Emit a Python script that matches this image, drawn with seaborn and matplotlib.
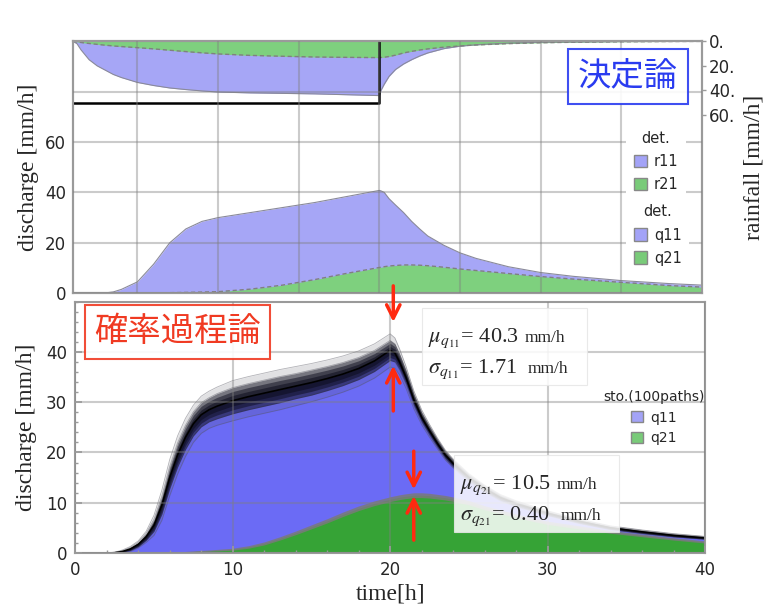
import numpy as np
import seaborn as sns
import matplotlib.pyplot as plt
from matplotlib.patches import Patch, Rectangle
from matplotlib.ticker import MultipleLocator

# ---- deterministic run (upper panel) ----
t_det = [1, 1.25, 1.5, 1.75, 2, 2.5, 3, 3.5, 4, 5, 6, 7, 8, 9, 10, 12, 14, 16, 18, 20,
         20.1, 20.3, 20.6, 21, 21.5, 22, 22.5, 23, 24, 25, 26, 28, 30, 32, 35, 38, 40]
r11_det = [0, 2, 7, 11, 15, 20, 23.5, 27, 29.5, 33.5, 36, 38, 39.3, 40.4, 41.3, 42, 42.4, 42.8, 43.5, 44.2,
           40, 35, 28.6, 23, 18.5, 15, 12, 9.5, 6, 4, 2.8, 1.5, 0.8, 0.5, 0.2, 0.1, 0]
r21_det = [0, 0.5, 1.0, 1.4, 1.8, 2.5, 3.2, 3.8, 4.3, 5.2, 6.2, 7.3, 8.4, 9.4, 10.3, 11.5, 12.2, 12.8, 13.1, 13.3,
           13.2, 13.0, 12.4, 11.3, 9.5, 8.2, 7.1, 6.2, 4.8, 3.8, 3.0, 1.9, 1.2, 0.8, 0.4, 0.2, 0.1]
q11_det = [0, 0, 0, 0, 0, 0, 0.1, 0.5, 1.5, 4.5, 11.5, 20, 25.5, 28.5, 30, 32, 34, 36, 38.4, 40.8,
           40.6, 40, 37.5, 35, 32, 28.5, 25.5, 22.7, 19, 16, 13.8, 10.5, 8.2, 6.7, 5.0, 3.8, 3.2]
q21_det = [0, 0, 0, 0, 0, 0, 0, 0, 0, 0, 0.1, 0.2, 0.3, 0.45, 0.6, 1.6, 3.2, 5.4, 7.9, 10.2,
           10.3, 10.5, 10.8, 11.0, 11.2, 11.2, 11.1, 10.9, 10.3, 9.6, 9.0, 7.8, 6.6, 5.6, 4.3, 3.0, 2.4]
rain_time = [0, 20, 20]
rain_rate = [50, 50, 0]

# ---- stochastic run, 100 paths (lower panel) ----
t_sto = [0, 1, 2, 2.5, 3, 3.5, 4, 4.5, 5, 5.5, 6, 6.5, 7, 7.5, 8, 8.5, 9, 10, 11, 12,
         13, 14, 15, 16, 17, 18, 19, 20, 20.3, 20.6, 21, 21.5, 22, 22.5, 23, 23.5, 24, 25, 26, 27,
         28, 30, 32, 34, 36, 38, 40]
q11_sto = [0, 0, 0, 0.05, 0.3, 0.8, 1.7, 3.2, 5.5, 9.5, 15, 19.5, 23, 25.7, 27.5, 28.5, 29.2, 30.3, 31.1, 31.8,
           32.5, 33.2, 33.9, 34.7, 35.6, 36.7, 38.2, 40.3, 39.8, 38, 35, 30.5, 27, 24.3, 21.8, 19.5, 17.8, 15, 12.8, 11,
           9.8, 7.9, 6.3, 5.0, 4.2, 3.5, 3.0]
# half-width of the dense core of the paths
q11_core = [0, 0, 0, 0.05, 0.15, 0.3, 0.45, 0.7, 1.2, 1.8, 2.2, 2.4, 2.4, 2.4, 2.4, 2.4, 2.5, 2.6, 2.6, 2.6,
            2.6, 2.5, 2.5, 2.4, 2.3, 2.2, 2.1, 2.0, 1.8, 1.6, 1.4, 1.2, 1.0, 0.9, 0.8, 0.75, 0.7, 0.6, 0.55, 0.5,
            0.45, 0.4, 0.35, 0.32, 0.3, 0.28, 0.25]
# half-width reached by the outermost paths
q11_fringe = [0, 0, 0, 0.1, 0.3, 0.5, 0.7, 1.1, 2.0, 3.0, 3.6, 3.8, 3.8, 3.7, 3.7, 3.7, 3.8, 4.0, 4.0, 4.0,
              4.0, 3.9, 3.8, 3.7, 3.6, 3.5, 3.4, 3.3, 3.0, 2.6, 2.2, 1.8, 1.5, 1.3, 1.1, 1.0, 0.9, 0.8, 0.7, 0.65,
              0.6, 0.5, 0.45, 0.4, 0.38, 0.35, 0.3]
q21_sto = [0, 0, 0, 0, 0, 0, 0, 0, 0.03, 0.05, 0.1, 0.15, 0.22, 0.3, 0.38, 0.46, 0.55, 0.75, 1.2, 1.9,
           2.9, 4.0, 5.2, 6.4, 7.7, 8.9, 9.9, 10.7, 10.9, 11.1, 11.3, 11.5, 11.5, 11.4, 11.2, 11.0, 10.7, 10.0, 9.0, 8.2,
           7.4, 6.0, 5.1, 4.2, 3.5, 2.8, 2.2]
q21_core = [0, 0, 0, 0, 0, 0, 0, 0, 0.02, 0.03, 0.05, 0.06, 0.08, 0.1, 0.12, 0.14, 0.16, 0.2, 0.25, 0.3,
            0.33, 0.36, 0.4, 0.42, 0.44, 0.46, 0.47, 0.48, 0.48, 0.48, 0.48, 0.48, 0.48, 0.47, 0.46, 0.45, 0.44, 0.42, 0.4, 0.38,
            0.36, 0.33, 0.3, 0.28, 0.26, 0.24, 0.22]

mu_q11, sigma_q11 = 40.3, 1.71
mu_q21, sigma_q21 = 10.5, 0.40

# colours
blue_det, green_det = "#a6a6f6", "#7ed07e"
blue_sto, green_sto = "#6b6bf5", "#36a336"
blue_leg, green_leg = "#a3a3f7", "#79cb79"
frame_col = "#9a9a9a"

sns.set_theme(style="white")
plt.rcParams["font.family"] = ["DejaVu Sans", "Noto Sans CJK JP"]
plt.rcParams["mathtext.fontset"] = "stix"
serif = "Liberation Serif"

fig = plt.figure(figsize=(7.68, 6.07), dpi=100)
ax_top = fig.add_axes([0.095, 0.517, 0.819, 0.415])
ax_rain = ax_top.twinx()
ax_bot = fig.add_axes([0.098, 0.089, 0.820, 0.414])

ax_rain.set_zorder(1)
ax_top.set_zorder(2)
ax_top.patch.set_visible(False)
ax_bot.set_zorder(5)

# ---- upper panel: rainfall (inverted, right axis) ----
ax_rain.fill_between(t_det, 0, r11_det, color=blue_det, lw=0)
sns.lineplot(x=t_det, y=r11_det, ax=ax_rain, color="#8a8a9a", lw=0.8, estimator=None)
ax_rain.fill_between(t_det, 0, r21_det, color=green_det, lw=0)
sns.lineplot(x=t_det, y=r21_det, ax=ax_rain, color="#808080", lw=1.0, ls=(0, (3, 2)), estimator=None)
ax_rain.plot(rain_time, rain_rate, color="black", lw=1.8)
ax_rain.set_ylim(205, 0)
ax_rain.set_yticks([0, 20, 40, 60])
ax_rain.set_yticklabels(["0.", "20.", "40.", "60."])
ax_rain.set_ylabel("rainfall [mm/h]", family=serif, fontsize=17, labelpad=6)
ax_rain.tick_params(axis="y", right=True, length=3, width=1, color=frame_col, pad=2, labelsize=12)

# ---- upper panel: discharge ----
ax_top.fill_between(t_det, 0, q11_det, color=blue_det, lw=0)
sns.lineplot(x=t_det, y=q11_det, ax=ax_top, color="#8a8a9a", lw=0.8, estimator=None)
ax_top.fill_between(t_det, 0, q21_det, color=green_det, lw=0)
sns.lineplot(x=t_det, y=q21_det, ax=ax_top, color="#808080", lw=1.0, ls=(0, (3, 2)), estimator=None)
ax_top.set_xlim(1, 40)
ax_top.set_ylim(0, 100)
ax_top.set_xticks(np.arange(5, 40, 5))
ax_top.set_yticks([0, 20, 40, 60, 80])
ax_top.set_yticklabels(["0", "20", "40", "60", ""])
ax_top.tick_params(axis="x", labelbottom=False, length=0)
ax_top.tick_params(axis="y", length=0, pad=5, labelsize=12)
ax_top.set_ylabel("discharge [mm/h]", family=serif, fontsize=17, labelpad=4)
ax_top.set_axisbelow(False)
ax_top.grid(True, color="#7f7f7f", alpha=0.4, lw=1.5)

leg_kw = dict(loc="upper left", fontsize=10.5, title_fontsize=10.5, frameon=True, facecolor="white",
              edgecolor="none", framealpha=1, handlelength=0.9, handleheight=0.9,
              handletextpad=0.5, labelspacing=0.55, borderpad=0.5, fancybox=False)
leg1 = ax_top.legend(handles=[Patch(facecolor=blue_leg, edgecolor="#888888", label="r11"),
                              Patch(facecolor=green_leg, edgecolor="#888888", label="r21")],
                     title="det.", bbox_to_anchor=(0.868, 0.70), **leg_kw)
ax_top.add_artist(leg1)
ax_top.legend(handles=[Patch(facecolor=blue_leg, edgecolor="#888888", label="q11"),
                       Patch(facecolor=green_leg, edgecolor="#888888", label="q21")],
              title="det.", bbox_to_anchor=(0.868, 0.41), **leg_kw)

ax_top.text(0.882, 0.862, "決定論", transform=ax_top.transAxes, ha="center", va="center",
            fontsize=24, color="#2a3cf0", family=["Noto Sans CJK JP"], zorder=8,
            bbox=dict(boxstyle="square,pad=0.3", facecolor="white", edgecolor="#2a3cf0", lw=1.5, alpha=0.9))

for ax in (ax_top, ax_rain):
    for sp in ax.spines.values():
        sp.set_color(frame_col)
        sp.set_linewidth(1.5)

# ---- lower panel: stochastic paths ----
q11_m = np.array(q11_sto)
q21_m = np.array(q21_sto)
core11 = np.array(q11_core)
fringe11 = np.array(q11_fringe)
ax_bot.fill_between(t_sto, 0, q11_m, color=blue_sto, lw=0)
ax_bot.fill_between(t_sto, 0, q21_m, color=green_sto, lw=0)
ax_bot.fill_between(t_sto, q21_m - np.array(q21_core), q21_m + np.array(q21_core),
                    color="#7a7a7a", alpha=0.85, lw=0, zorder=2)
# cloud of paths: faint outer paths, denser core towards the centre
ax_bot.fill_between(t_sto, q11_m - fringe11, q11_m + fringe11,
                    color="#4a4a55", alpha=0.16, lw=0, zorder=2)
for lo, hi in [(q11_m - fringe11, q11_m + fringe11), (q11_m - core11, q11_m + core11)]:
    for edge in (lo, hi):
        ax_bot.plot(t_sto, edge, color="#555560", lw=0.6, alpha=0.45, zorder=2)
for share, alpha in [(1.0, 0.5), (0.7, 0.5), (0.4, 0.55)]:
    ax_bot.fill_between(t_sto, q11_m - share * core11, q11_m + share * core11,
                        color="#0c0c1c", alpha=alpha, lw=0, zorder=2)
sns.lineplot(x=t_sto, y=q11_sto, ax=ax_bot, color="black", lw=1.2, estimator=None, zorder=2)

ax_bot.set_xlim(0, 40)
ax_bot.set_ylim(0, 50)
ax_bot.set_xticks([0, 10, 20, 30, 40])
ax_bot.set_yticks([0, 10, 20, 30, 40])
ax_bot.xaxis.set_minor_locator(MultipleLocator(2))
ax_bot.yaxis.set_minor_locator(MultipleLocator(2))
ax_bot.tick_params(which="major", direction="in", length=5, color=frame_col, labelsize=12, pad=6)
ax_bot.tick_params(which="minor", direction="in", length=2.5, color=frame_col)
ax_bot.tick_params(bottom=True, left=True, which="both")
ax_bot.set_axisbelow(False)
ax_bot.grid(True, which="major", color="#7f7f7f", alpha=0.4, lw=1.5)
ax_bot.set_xlabel("time[h]", family=serif, fontsize=17, labelpad=3)
ax_bot.set_ylabel("discharge [mm/h]", family=serif, fontsize=17, labelpad=6)
for sp in ax_bot.spines.values():
    sp.set_color(frame_col)
    sp.set_linewidth(1.5)

ax_bot.legend(handles=[Patch(facecolor=blue_leg, edgecolor="#888888", label="q11"),
                       Patch(facecolor=green_leg, edgecolor="#888888", label="q21")],
              title="sto.(100paths)", loc="upper left", bbox_to_anchor=(0.818, 0.70),
              fontsize=10, title_fontsize=10, frameon=False, handlelength=0.9,
              handleheight=0.9, handletextpad=0.5, labelspacing=0.5)

ax_bot.text(0.162, 0.88, "確率過程論", transform=ax_bot.transAxes, ha="center", va="center",
            fontsize=24, color="#f03a22", family=["Noto Sans CJK JP"], zorder=8,
            bbox=dict(boxstyle="square,pad=0.28", facecolor="white", edgecolor="#f03a22", lw=1.5, alpha=0.9))

# statistics boxes
for (x0, y0), mu, sig, name in [((0.551, 0.669), mu_q11, sigma_q11, "11"),
                                ((0.602, 0.084), mu_q21, sigma_q21, "21")]:
    ax_bot.add_patch(Rectangle((x0, y0), 0.262, 0.305, transform=ax_bot.transAxes,
                               facecolor="white", edgecolor="#e6e6e6", lw=0.8, alpha=0.85, zorder=6))
    ax_bot.text(x0 + 0.009, y0 + 0.172, rf"$\mu_{{q_{{{name}}}}}$= {mu:.1f}", transform=ax_bot.transAxes,
                family=serif, fontsize=16, va="baseline", zorder=7)
    ax_bot.text(x0 + 0.009, y0 + 0.048, rf"$\sigma_{{q_{{{name}}}}}$= {sig:.2f}", transform=ax_bot.transAxes,
                family=serif, fontsize=16, va="baseline", zorder=7)
    ax_bot.text(x0 + 0.163, y0 + 0.172, "mm/h", transform=ax_bot.transAxes,
                family=serif, fontsize=12.5, va="baseline", zorder=7)
    ax_bot.text(x0 + 0.168, y0 + 0.048, "mm/h", transform=ax_bot.transAxes,
                family=serif, fontsize=12.5, va="baseline", zorder=7)

# red arrows marking the peaks
t_pk11 = t_sto[int(np.argmax(q11_m))] + 0.2
pk11 = q11_m.max()
t_pk21 = t_sto[int(np.argmax(q21_m))]
pk21 = q21_m.max()
arrow = dict(arrowstyle="->,head_length=0.8,head_width=0.4", color="#ff2a10", lw=2.5)
for tip, tail, tx in [(pk11 + 5.1, pk11 + 13.4, t_pk11), (pk11 - 2.5, pk11 - 12.6, t_pk11),
                      (pk21 + 0.6, pk21 + 9.3, t_pk21), (pk21 + 0.4, pk21 - 9.5, t_pk21)]:
    ax_bot.annotate("", xy=(tx, tip), xytext=(tx, tail), arrowprops=arrow,
                    annotation_clip=False, zorder=9)

fig.savefig("out.png", dpi=100)
